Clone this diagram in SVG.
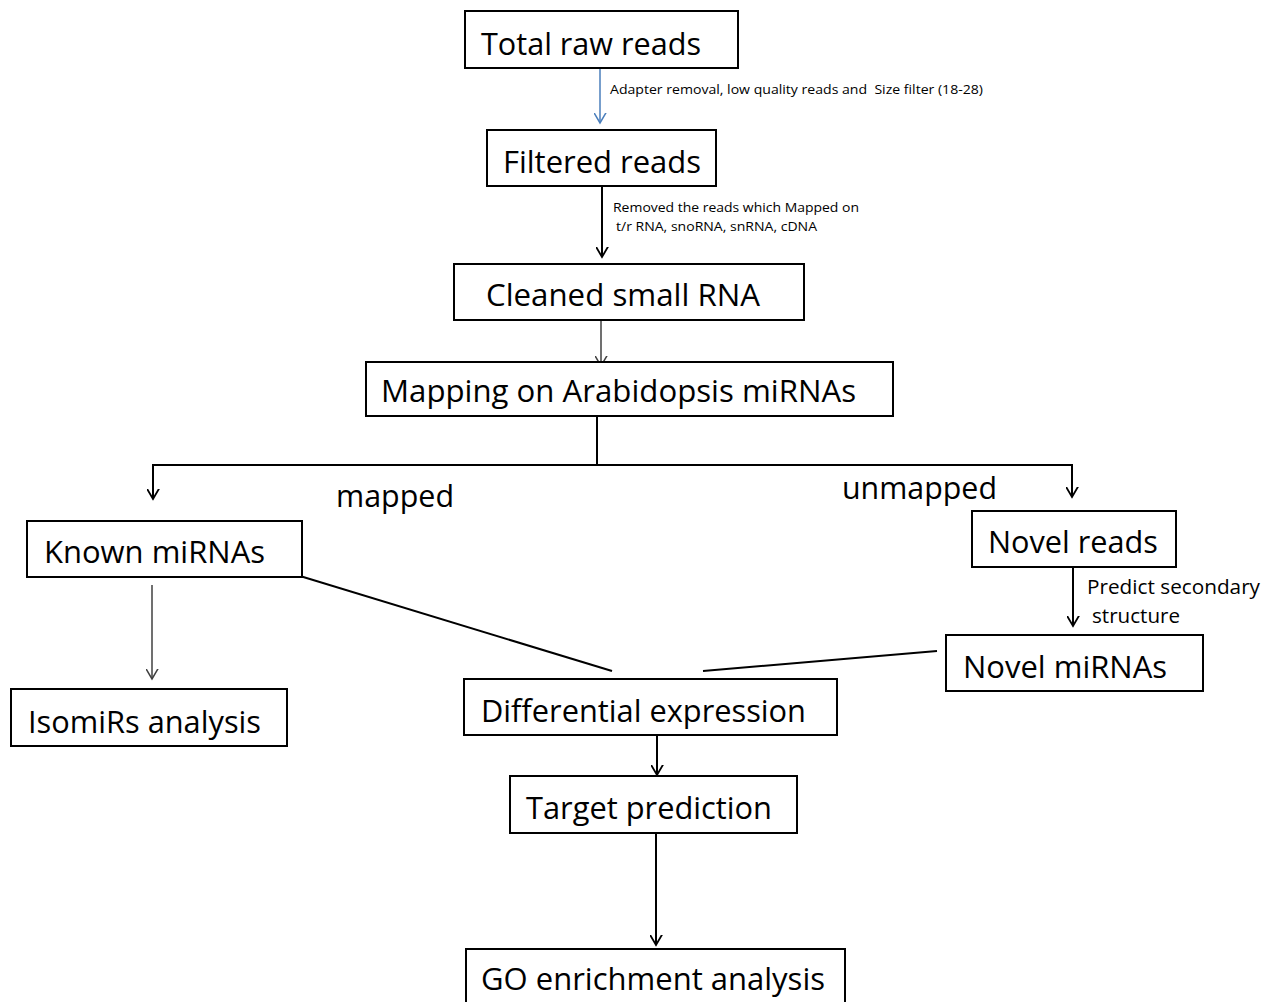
<svg xmlns="http://www.w3.org/2000/svg" width="1273" height="1002" viewBox="0 0 1273 1002">
<style>
.box{fill:#fff;stroke:#000;stroke-width:2}
.t{font-family:"Open Sans","Noto Sans",sans-serif;font-size:31px;fill:#000}
.s{font-family:"Open Sans","Noto Sans",sans-serif;font-size:13px;fill:#000}
.m{font-family:"Open Sans","Noto Sans",sans-serif;font-size:20px;fill:#000}
.c{fill:none;stroke:#000;stroke-width:2}
.g{fill:none;stroke:#404040;stroke-width:1.5}
.b{fill:none;stroke:#4a7ebb;stroke-width:1.5}
</style>
<defs>
<marker id="ab" markerWidth="20" markerHeight="20" viewBox="-10 -14 20 20" refX="0" refY="0" markerUnits="userSpaceOnUse" orient="auto">
<polyline points="-7,-12 0,0 7,-12" fill="none" stroke="#000" stroke-width="1.8" transform="rotate(-90)"/>
</marker>
<marker id="ag" markerWidth="20" markerHeight="20" viewBox="-10 -14 20 20" refX="0" refY="0" markerUnits="userSpaceOnUse" orient="auto">
<polyline points="-7,-12 0,0 7,-12" fill="none" stroke="#404040" stroke-width="1.5" transform="rotate(-90)"/>
</marker>
<marker id="abl" markerWidth="20" markerHeight="20" viewBox="-10 -14 20 20" refX="0" refY="0" markerUnits="userSpaceOnUse" orient="auto">
<polyline points="-7,-12 0,0 7,-12" fill="none" stroke="#4a7ebb" stroke-width="1.5" transform="rotate(-90)"/>
</marker>
</defs>
<rect width="1273" height="1002" fill="#fff"/>
<g id="connectors">
<line class="b" x1="600" y1="68" x2="600" y2="123" marker-end="url(#abl)"/>
<line class="c" x1="602" y1="186" x2="602" y2="257" marker-end="url(#ab)"/>
<line class="g" x1="601" y1="320" x2="601" y2="366" marker-end="url(#ag)"/>
<polyline class="c" points="597,416 597,465"/>
<polyline class="c" points="597,465 153,465 153,499" marker-end="url(#ab)"/>
<polyline class="c" points="597,465 1072,465 1072,497" marker-end="url(#ab)"/>
<line class="g" x1="152" y1="585" x2="152" y2="679" marker-end="url(#ag)"/>
<line class="c" x1="300" y1="576" x2="612" y2="671"/>
<line class="c" x1="1073" y1="567" x2="1073" y2="626" marker-end="url(#ab)"/>
<line class="c" x1="703" y1="671" x2="937" y2="651"/>
<line class="c" x1="657" y1="735" x2="657" y2="775" marker-end="url(#ab)"/>
<line class="c" x1="656" y1="831" x2="656" y2="945" marker-end="url(#ab)"/>
<text class="s" x="610" y="94" textLength="373" lengthAdjust="spacingAndGlyphs">Adapter removal, low quality reads and &#160;Size filter (18-28)</text>
<text class="s" x="613" y="212" textLength="246" lengthAdjust="spacingAndGlyphs">Removed the reads which Mapped on</text>
<text class="s" x="616" y="231" textLength="201" lengthAdjust="spacingAndGlyphs">t/r RNA, snoRNA, snRNA, cDNA</text>
<text class="t" x="336" y="507" textLength="118" lengthAdjust="spacingAndGlyphs">mapped</text>
<text class="t" x="842" y="499" textLength="155" lengthAdjust="spacingAndGlyphs">unmapped</text>
<text class="m" x="1087" y="594" textLength="173" lengthAdjust="spacingAndGlyphs">Predict secondary</text>
<text class="m" x="1092" y="623" textLength="88" lengthAdjust="spacingAndGlyphs">structure</text>
</g>
<g id="total-raw-reads">
<rect class="box" x="465" y="11" width="273" height="57"/>
<text class="t" x="481" y="55" textLength="220" lengthAdjust="spacingAndGlyphs">Total raw reads</text>
</g>
<g id="filtered-reads">
<rect class="box" x="487" y="130" width="229" height="56"/>
<text class="t" x="503" y="173" textLength="198" lengthAdjust="spacingAndGlyphs">Filtered reads</text>
</g>
<g id="cleaned-small-rna">
<rect class="box" x="454" y="264" width="350" height="56"/>
<text class="t" x="486" y="306" textLength="274" lengthAdjust="spacingAndGlyphs">Cleaned small RNA</text>
</g>
<g id="mapping">
<rect class="box" x="366" y="362" width="527" height="54"/>
<text class="t" x="381" y="402" textLength="475" lengthAdjust="spacingAndGlyphs">Mapping on Arabidopsis miRNAs</text>
</g>
<g id="known-mirnas">
<rect class="box" x="27" y="521" width="275" height="56"/>
<text class="t" x="44" y="563" textLength="221" lengthAdjust="spacingAndGlyphs">Known miRNAs</text>
</g>
<g id="novel-reads">
<rect class="box" x="972" y="511" width="204" height="56"/>
<text class="t" x="988" y="553" textLength="170" lengthAdjust="spacingAndGlyphs">Novel reads</text>
</g>
<g id="isomirs">
<rect class="box" x="11" y="689" width="276" height="57"/>
<text class="t" x="28" y="733" textLength="233" lengthAdjust="spacingAndGlyphs">IsomiRs analysis</text>
</g>
<g id="novel-mirnas">
<rect class="box" x="946" y="635" width="257" height="56"/>
<text class="t" x="963" y="678" textLength="204" lengthAdjust="spacingAndGlyphs">Novel miRNAs</text>
</g>
<g id="differential-expression">
<rect class="box" x="464" y="679" width="373" height="56"/>
<text class="t" x="481" y="722" textLength="325" lengthAdjust="spacingAndGlyphs">Differential expression</text>
</g>
<g id="target-prediction">
<rect class="box" x="510" y="776" width="287" height="57"/>
<text class="t" x="526" y="819" textLength="246" lengthAdjust="spacingAndGlyphs">Target prediction</text>
</g>
<g id="go-enrichment">
<rect class="box" x="466" y="949" width="379" height="60"/>
<text class="t" x="481" y="990" textLength="344" lengthAdjust="spacingAndGlyphs">GO enrichment analysis</text>
</g>
</svg>
